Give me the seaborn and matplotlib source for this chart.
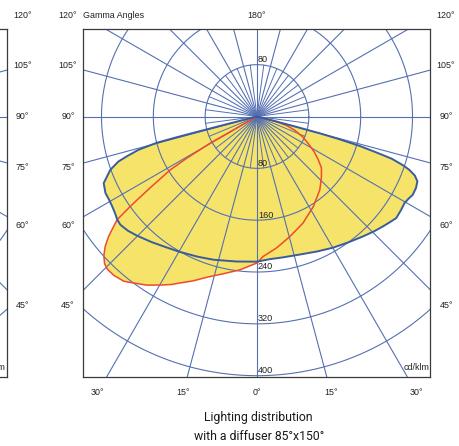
import numpy as np
import matplotlib
matplotlib.use("Agg")
import matplotlib.pyplot as plt
import seaborn as sns
import pandas as pd
from matplotlib import font_manager

# ---------------- data (gamma angle in degrees from nadir, intensity in cd/klm) ----------------
blue_gamma = [-90, -75.8, -75.7, -75.6, -75.5, -75.3, -74.3, -73.0, -72.0, -70.0, -66.5, -63.2,
              -60.5, -58.2, -55.8, -53.6, -51.6, -48.5, -45.2, -40.0, -35.0, -30.2, -23.0, -16.9,
              -8.0, 0.0, 5.2, 10.0, 17.2, 24.0, 30.1, 36.0, 41.5, 45.5, 48.9, 51.5, 53.9, 57.1,
              59.6, 61.5, 63.3, 65.8, 68.0, 69.5, 70.7, 71.5, 72.6, 73.3, 74.0, 74.6, 75.0, 75.3,
              75.5, 90]
blue_cd = [0, 30, 60, 100, 130, 160, 190, 210, 225, 241, 258, 262,
           262, 263, 265, 268, 269, 266, 261, 253, 246, 241, 235, 231,
           226, 224, 221, 221, 223, 228, 234, 240, 247, 253, 258, 262, 266, 265,
           264, 266, 269, 269, 267, 260, 249, 238, 218, 190, 165, 130, 100, 60,
           30, 0]

red_gamma = [-90, -61.0, -60.3, -60.3, -59.3, -58.4, -56.6, -55.2, -54.5, -53.6, -52.5, -51.1,
             -49.5, -47.8, -46.0, -44.4, -42.0, -39.0, -36.6, -33.2, -29.9, -27.0, -24.8, -21.2,
             -17.0, -12.0, -6.3, 0.0, 2.6, 8.5, 15.4, 23.4, 32.0, 40.6, 47.0, 51.5, 55.0, 58.5,
             62.0, 66.0, 70.0, 73.0, 75.5, 90]
red_cd = [0, 20, 42, 83, 126, 157, 191, 225, 243, 268, 279, 294,
          308, 319, 327, 330, 330, 327, 320, 311, 300, 291, 283, 272,
          259, 248, 238, 226, 216, 205, 192, 179, 164, 149, 136, 127, 115, 103,
          90, 77, 62, 48, 30, 0]

ring_values = [80, 160, 240, 320, 400]
ring_labels = ["80", "160", "240", "320", "400"]
side_angles = [120, 105, 90, 75, 60, 45]
bottom_angles = [-30, -15, 0, 15, 30]
major_step = 15
minor_extent = 80
title_text = "Gamma Angles"
unit_text = "cd/klm"
caption = ["Lighting distribution", "with a diffuser 85°x150°"]

# ---------------- styling ----------------
sns.set_style("white")
plt.rcParams["font.family"] = ["Liberation Sans", "DejaVu Sans"]

GRID = "#5570b2"
BLUE = "#3b5c9c"
RED = "#ee4a2b"
YELLOW = "#f6e46a"
FRAME = "#3a3a3a"

W, H = 459, 446
PXU = 0.648          # pixels per cd/klm
POLE_X, POLE_Y = 257, 116.5
BOX_L, BOX_R, BOX_T, BOX_B = 83, 430, 29, 377

fig = plt.figure(figsize=(W / 100, H / 100), dpi=100)


def to_xy(g, r):
    g = np.radians(np.asarray(g, dtype=float))
    r = np.asarray(r, dtype=float)
    return r * np.sin(g), -r * np.cos(g)


def make_axes(left_px):
    ax = fig.add_axes([left_px / W, 1 - BOX_B / H, (BOX_R - BOX_L) / W, (BOX_B - BOX_T) / H])
    ax.set_xlim(-(POLE_X - BOX_L) / PXU, (BOX_R - POLE_X) / PXU)
    ax.set_ylim(-(BOX_B - POLE_Y) / PXU, (POLE_Y - BOX_T) / PXU)
    ax.set_xticks([])
    ax.set_yticks([])
    for s in ax.spines.values():
        s.set_visible(True)
        s.set_color(FRAME)
        s.set_linewidth(0.9)
        s.set_zorder(6)
    return ax


def draw_grid(ax):
    th = np.linspace(0, 2 * np.pi, 721)
    for r in ring_values:
        ax.plot(r * np.cos(th), r * np.sin(th), color=GRID, lw=0.8, zorder=2)
    for g in np.arange(-180, 180, major_step):
        x, y = to_xy([g, g], [0, 1200])
        ax.plot(x, y, color=GRID, lw=0.8, zorder=2)
    for g in np.arange(-180 + major_step / 2, 180, major_step):
        x, y = to_xy([g, g], [0, minor_extent])
        ax.plot(x, y, color=GRID, lw=0.7, zorder=2)


lab_dx = 189 / PXU
lab_top = (POLE_Y - 15) / PXU
lab_bot = -(393 - POLE_Y) / PXU
fs = 6.4

# ---- neighbouring (cropped) chart on the far left ----
axn = make_axes(6.7 - (BOX_R - BOX_L))
draw_grid(axn)
for g in side_angles:
    y = min(-lab_dx * np.cos(np.radians(g)) / np.sin(np.radians(g)), lab_top)
    axn.text(lab_dx, y, f"{g}°", ha="center", va="center", fontsize=fs, color="#222222")
axn.text((429 - POLE_X) / PXU, -(368 - POLE_Y) / PXU, unit_text, ha="right", va="center",
         fontsize=fs, color="#222222", zorder=7)

# ---- main chart ----
ax = make_axes(BOX_L)
bx, by = to_xy(blue_gamma, blue_cd)
rx, ry = to_xy(red_gamma, red_cd)
ax.fill(bx, by, color=YELLOW, lw=0, zorder=1)
ax.fill(rx, ry, color=YELLOW, lw=0, zorder=1)
draw_grid(ax)

df_blue = pd.DataFrame({"x": bx, "y": by})
df_red = pd.DataFrame({"x": rx, "y": ry})
sns.lineplot(data=df_blue, x="x", y="y", sort=False, estimator=None, color=BLUE, lw=1.4,
             ax=ax, zorder=4, legend=False)
sns.lineplot(data=df_red, x="x", y="y", sort=False, estimator=None, color=RED, lw=1.1,
             ax=ax, zorder=3, legend=False)
ax.set_xlabel("")
ax.set_ylabel("")
ax.set_xticks([])
ax.set_yticks([])

# ring labels
for r, t in zip(ring_values, ring_labels):
    ax.text(1.5, -r + 3.9, t, ha="left", va="baseline", fontsize=6.6, color="#222222", zorder=5)
ax.text(1.5, ring_values[0] + 4.6, ring_labels[0], ha="left", va="baseline", fontsize=6.6,
        color="#222222", zorder=5)

# angle labels
for g in side_angles:
    y = min(-lab_dx * np.cos(np.radians(g)) / np.sin(np.radians(g)), lab_top)
    ax.text(-lab_dx, y, f"{g}°", ha="center", va="center", fontsize=fs, color="#222222")
    ax.text(lab_dx, y, f"{g}°", ha="center", va="center", fontsize=fs, color="#222222")
ax.text(0, lab_top, "180°", ha="center", va="center", fontsize=fs, color="#222222")
for g in bottom_angles:
    x = -lab_bot * np.tan(np.radians(g))
    ax.text(x, lab_bot, f"{abs(g)}°", ha="center", va="center", fontsize=fs, color="#222222")
ax.text(-(POLE_X - BOX_L) / PXU, lab_top, title_text, ha="left", va="center", fontsize=fs,
        color="#222222")
ax.text((429 - POLE_X) / PXU, -(368 - POLE_Y) / PXU, unit_text, ha="right", va="center",
        fontsize=fs, color="#222222", zorder=7)

# caption
names = {f.name for f in font_manager.fontManager.ttflist}
if "Liberation Sans Narrow" in names:
    cap_font, cap_fs = "Liberation Sans Narrow", 10.4
else:
    cap_font, cap_fs = "Roboto", 8.8
fig.text(258 / W, 1 - 417 / H, caption[0], ha="center", va="center", fontsize=cap_fs,
         family=[cap_font, "DejaVu Sans"], color="#1a1a1a")
fig.text(259 / W, 1 - 437 / H, caption[1], ha="center", va="center", fontsize=cap_fs,
         family=[cap_font, "DejaVu Sans"], color="#1a1a1a")

fig.savefig("out.png", dpi=100)
